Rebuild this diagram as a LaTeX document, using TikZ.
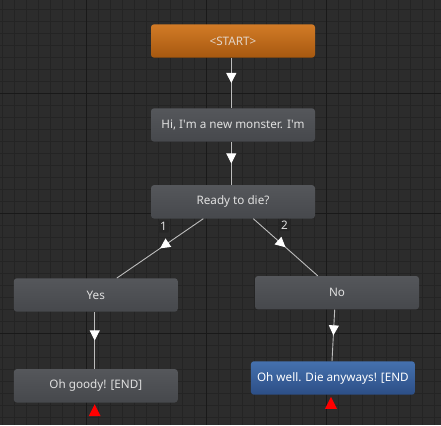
\documentclass[tikz,border=0pt]{standalone}
\usepackage{fontspec}
\setmainfont{Noto Sans}
\usetikzlibrary{decorations.markings,arrows.meta,calc}
\definecolor{bgc}{HTML}{2C2C2C}
\definecolor{minorc}{HTML}{242424}
\definecolor{majorc}{HTML}{191919}
\definecolor{graytop}{HTML}{55575B}
\definecolor{graybot}{HTML}{46484C}
\definecolor{orangetop}{HTML}{D27B26}
\definecolor{orangebot}{HTML}{A65810}
\definecolor{bluetop}{HTML}{4571AE}
\definecolor{bluebot}{HTML}{2C4E86}
\definecolor{txtc}{HTML}{E0E0E0}
\definecolor{linec}{HTML}{BDBDBD}
\definecolor{lblbg}{HTML}{262626}
\tikzset{
  dnode/.style={rounded corners=3pt, minimum width=164pt, minimum height=33.4pt,
    inner sep=0pt, text=txtc, font=\fontsize{11.7}{13}\selectfont,
    top color=graytop, bottom color=graybot},
  startnode/.style={dnode, top color=orangetop, bottom color=orangebot, text=txtc!90!orange},
  endblue/.style={dnode, top color=bluetop, bottom color=bluebot, text=white},
  conn/.style={draw=linec, line width=0.9pt,
    postaction={decorate}, decoration={markings,
      mark=at position 0.5 with {\arrow[white]{Triangle[width=10pt,length=10pt]}}}},
  lbl/.style={fill=lblbg, rounded corners=1.5pt, text=txtc, inner sep=2pt,
    font=\fontsize{11.7}{13}\selectfont},
}
\begin{document}
\begin{tikzpicture}[x=1pt,y=-1pt]
\useasboundingbox (0,0) rectangle (441,425);
\fill[bgc] (0,0) rectangle (441,425);
\foreach \x in {2.3,14.3,...,441} \draw[minorc,line width=1pt] (\x,0) -- (\x,425);
\foreach \y in {9.3,21.3,...,425} \draw[minorc,line width=1pt] (0,\y) -- (441,\y);
\foreach \x in {86.3,206.3,326.3} \draw[majorc,line width=1pt] (\x,0) -- (\x,425);
\foreach \y in {93.3,213.3,333.3} \draw[majorc,line width=1pt] (0,\y) -- (441,\y);

\node[startnode] (start) at (233,41) {<START>};
\node[dnode] (hi) at (233,125) {Hi, I\textquotesingle m a new monster. I\textquotesingle m};
\node[dnode] (ready) at (233,201.8) {Ready to die?};
\node[dnode] (yes) at (95.8,295) {Yes};
\node[dnode] (no) at (337,292.7) {No};
\node[dnode] (goody) at (95.8,385.8) {Oh goody! [END]};
\node[endblue] (well) at (332.9,378) {Oh well. Die anyways! [END};

\draw[conn] ([xshift=-1.7pt]start.south) -- ([xshift=-1.7pt]hi.north);
\draw[conn] ([xshift=-1.7pt]hi.south) -- ([xshift=-1.7pt]ready.north);
\draw[conn] ([xshift=-29.7pt]ready.south) -- ([xshift=21pt]yes.north);
\draw[conn] ([xshift=20.3pt]ready.south) -- ([xshift=-19.3pt]no.north);
\draw[conn] ([xshift=-1.1pt]yes.south) -- ([xshift=-1.1pt]goody.north);
\draw[conn] ([xshift=-2.3pt]no.south) -- ([xshift=-0.9pt]well.north);

\node[lbl] (l1) at (163.5,226.5) {1};
\node[lbl] (l2) at (284.5,225) {2};

\fill[red] ($(goody.south)+(-1.1,1.5)$) -- ++(-6,12) -- ++(12,0) -- cycle;
\fill[red] ($(well.south)+(-1.9,2)$) -- ++(-6,12) -- ++(12,0) -- cycle;
\end{tikzpicture}
\end{document}
